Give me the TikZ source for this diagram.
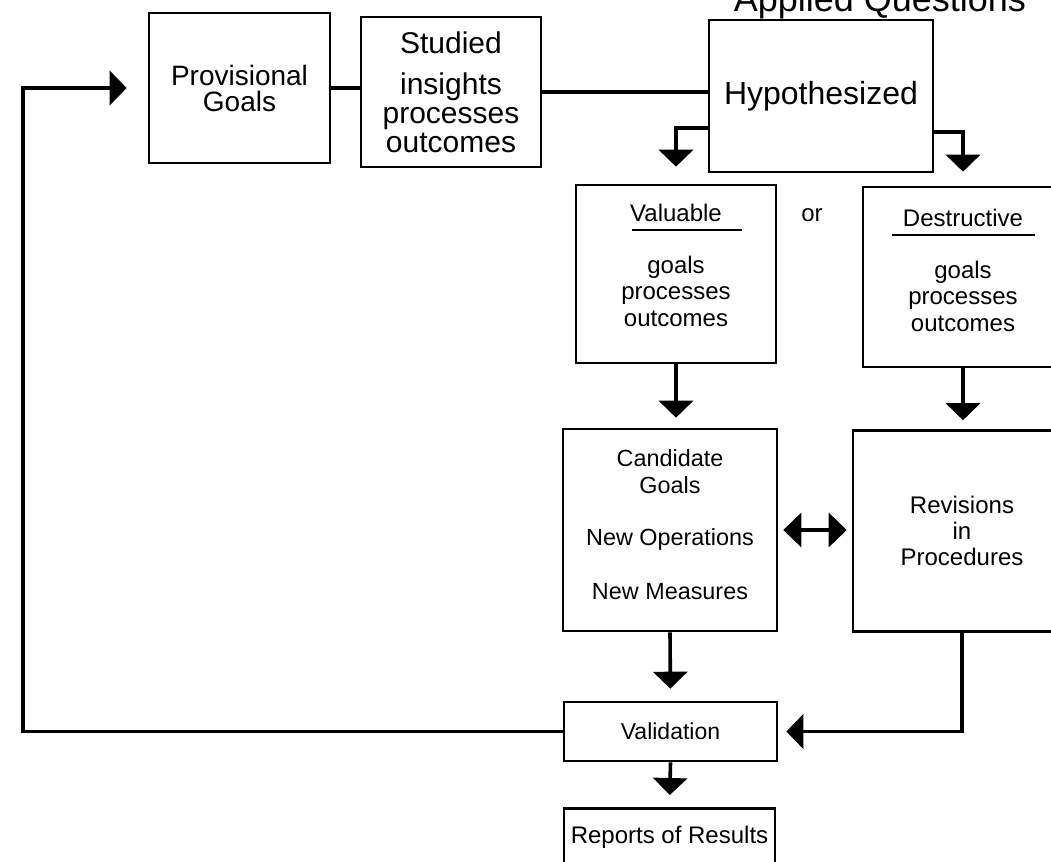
\documentclass[tikz,border=0pt]{standalone}
\usepackage{fontspec}
\setmainfont{Liberation Sans}
\usetikzlibrary{arrows.meta,positioning}

\begin{document}
\begin{tikzpicture}[
    x=0.5pt, y=-0.5pt,
    box/.style={rectangle, draw, line width=1.3pt, align=center, inner sep=0pt},
    link/.style={line width=1.8pt},
    arr/.style={link, -{Triangle[length=8.5pt,width=17pt]}},
    twoway/.style={link, {Triangle[length=9pt,width=17pt]}-{Triangle[length=9pt,width=17pt]}}
]
    \useasboundingbox (0,0) rectangle (1051,862);
    \clip (0,0) rectangle (1051,862);

    % Title (cut off at the top)
    \node[anchor=base east, font=\fontsize{18}{18}\selectfont] (title) at (1033,11) {Applied Questions};

    % Nodes
    \node[box, minimum width=90.5pt, minimum height=75pt, font=\fontsize{14}{13}\selectfont]
        (prov) at (239.5,88) {Provisional\\Goals};
    \node[box, minimum width=90pt, minimum height=75pt, font=\fontsize{15}{14.5}\selectfont]
        (stud) at (451,92) {Studied\\[6pt]insights\\processes\\outcomes};
    \node[box, minimum width=112pt, minimum height=76pt, font=\fontsize{16}{16}\selectfont]
        (hyp) at (821,96) {Hypothesized};
    \node[box, minimum width=100pt, minimum height=89pt, font=\fontsize{12}{13.25}\selectfont]
        (val) at (676,274) {Valuable\\[-8.25pt]\hspace*{11pt}\rule{55pt}{1.2pt}\\[7.75pt]goals\\processes\\outcomes\rule[-9pt]{0pt}{9pt}};
    \node[font=\fontsize{12}{12}\selectfont] (or) at (812,215) {or};
    \node[box, minimum width=100pt, minimum height=90pt, font=\fontsize{12}{13.25}\selectfont]
        (des) at (963,277) {Destructive\\[-8.25pt]\rule{71.5pt}{1.2pt}\hspace*{14.5pt}\\[7.75pt]goals\\processes\\outcomes\rule[-7pt]{0pt}{7pt}};
    \node[box, minimum width=107pt, minimum height=101pt, font=\fontsize{11.7}{13.5}\selectfont]
        (cand) at (670,530) {Candidate\\Goals\\[12.5pt]New Operations\\[13.5pt]New Measures\rule[-5.5pt]{0pt}{5.5pt}};
    \node[box, minimum width=109pt, minimum height=100.5pt, font=\fontsize{12}{13}\selectfont]
        (rev) at (962,531) {Revisions\\in\\Procedures};
    \node[box, minimum width=106.5pt, minimum height=29.5pt, font=\fontsize{11.5}{12}\selectfont]
        (vald) at (670.5,731.5) {Validation};
    \node[box, anchor=north, minimum width=105.5pt, text height=17.5pt, text depth=30pt, font=\fontsize{12}{12}\selectfont]
        (rep) at (669.5,807) {Reports of Results};
    \coordinate (back) at (23,731.5);

    % Arrows
    \draw[link] (prov.east) -- (prov.east -| stud.west);
    \draw[link] (stud.east) -- (stud.east -| hyp.west);
    \draw[arr, shorten >=8.5pt] ([yshift=-16pt]hyp.west) -| (val.north);
    \draw[arr, shorten >=7pt] ([yshift=-18pt]hyp.east) -| (des.north);
    \draw[arr, shorten >=5pt] (val.south) -- (val.south |- cand.north);
    \draw[arr, shorten >=4.5pt] (des.south) -- (des.south |- rev.north);
    \draw[twoway, shorten <=2.5pt, shorten >=2.5pt] (cand.east) -- (cand.east -| rev.west);
    \draw[arr, shorten >=6pt] (cand.south) -- (vald.north);
    \draw[arr, shorten >=4pt] (rev.south) |- (vald.east);
    \draw[arr, shorten >=6pt] (vald.south) -- (rep.north);
    \draw[arr, shorten >=10.5pt] (vald.west) -- (back) |- (prov.west);
\end{tikzpicture}
\end{document}
